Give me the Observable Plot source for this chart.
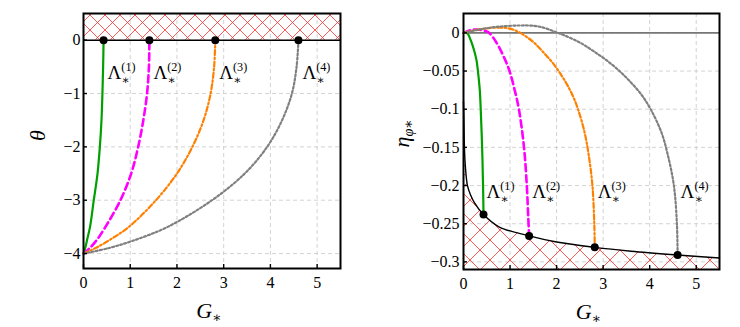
<!DOCTYPE html>
<html><head><meta charset="utf-8">
<script src="https://cdn.jsdelivr.net/npm/d3@7"></script>
<script src="https://cdn.jsdelivr.net/npm/@observablehq/plot@0.6"></script>
<style>
body{margin:0;background:#fff;}
#wrap{display:flex;width:740px;height:327px;}
#wrap svg{display:block;}
#wrap svg text{font-family:"Liberation Serif","Times New Roman","DejaVu Serif",serif;}
</style></head><body>
<svg width="0" height="0" style="position:absolute">
<defs>
<pattern id="hatchL" patternUnits="userSpaceOnUse" width="15" height="15">
<path d="M0,0L15,15M15,0L0,15" stroke="#ff3030" stroke-width="0.8" fill="none"/></pattern>
<pattern id="hatchR" patternUnits="userSpaceOnUse" width="20" height="20">
<path d="M0,0L20,20M20,0L0,20" stroke="#ff3030" stroke-width="0.8" fill="none"/></pattern>
</defs></svg>
<div id="wrap"></div>
<script>
// ---- data ----
const seriesLabels = ["(1)", "(2)", "(3)", "(4)"];
const seriesColors = ["#00a000", "#ff00ff", "#ff8000", "#808080"];
const endG = [0.43, 1.41, 2.82, 4.6];
const endEta = [-0.238, -0.266, -0.281, -0.291];

// left panel: theta vs G*
const thetaGrid = [-4, -3.9, -3.75, -3.5, -3, -2.5, -2, -1.5, -1, -0.5, 0];
const thetaG1 = [0, 0.035, 0.075, 0.14, 0.22, 0.30, 0.35, 0.385, 0.405, 0.42, 0.43];
const thetaG2 = [0, 0.13, 0.28, 0.47, 0.79, 1.02, 1.17, 1.28, 1.36, 1.40, 1.41];
const thetaG3 = [0, 0.25, 0.55, 0.97, 1.55, 2.0, 2.33, 2.57, 2.72, 2.795, 2.82];
const thetaG4 = [0, 0.53, 1.09, 1.8, 2.75, 3.45, 3.93, 4.25, 4.46, 4.56, 4.6];

// right panel: eta_phi* vs G*
const etaG1 = [0, 0.05, 0.1, 0.155, 0.227, 0.28, 0.31, 0.35, 0.37, 0.40, 0.42, 0.43];
const eta1  = [0, 0.001, -0.002, -0.0096, -0.0227, -0.036, -0.05, -0.075, -0.1, -0.15, -0.2, -0.238];
const etaG2 = [0, 0.15, 0.3, 0.44, 0.55, 0.7, 0.9, 1.0, 1.1, 1.19, 1.3, 1.36, 1.39, 1.41];
const eta2  = [0, 0.0035, 0.0045, 0.003, 0, -0.012, -0.036, -0.052, -0.075, -0.1, -0.15, -0.2, -0.24, -0.266];
const etaG3 = [0, 0.2, 0.45, 0.76, 1.0, 1.22, 1.5, 1.71, 1.95, 2.15, 2.33, 2.46, 2.6, 2.69, 2.77, 2.81, 2.82];
const eta3  = [0, 0.003, 0.0055, 0.007, 0.0055, 0, -0.012, -0.025, -0.042, -0.06, -0.08, -0.1, -0.13, -0.16, -0.2, -0.25, -0.281];
const etaG4 = [0, 0.3, 0.7, 1.22, 1.6, 2.03, 2.48, 2.82, 3.2, 3.52, 3.81, 4.02, 4.25, 4.39, 4.52, 4.585, 4.6];
const eta4  = [0, 0.004, 0.0078, 0.0097, 0.0085, 0, -0.012, -0.025, -0.042, -0.06, -0.08, -0.1, -0.13, -0.16, -0.2, -0.25, -0.291];

// lower boundary of right panel
const boundG   = [0, 0.01, 0.02, 0.04, 0.085, 0.15, 0.23, 0.43, 0.76, 1.41, 2.0, 2.82, 3.6, 4.6, 5.5];
const boundEta = [-0.09, -0.12, -0.15, -0.175, -0.2, -0.212, -0.222, -0.238, -0.254, -0.266, -0.274, -0.281, -0.286, -0.291, -0.295];

const xTicks = [0, 1, 2, 3, 4, 5];
const thetaTicks = [-4, -3, -2, -1, 0];
const etaTicks = [-0.3, -0.25, -0.2, -0.15, -0.1, -0.05, 0];
const xDomain = [0, 5.5];
const thetaDomain = [-4.28, 0.5];
const etaDomain = [-0.31, 0.0254];
const forbiddenTheta = [0, 0.5];

// ---- build tables ----
const thetaGs = [thetaG1, thetaG2, thetaG3, thetaG4];
const leftRows = thetaGs.flatMap((gs, k) => gs.map((g, i) => ({s: k, G: g, v: thetaGrid[i]})));
const etaGs = [etaG1, etaG2, etaG3, etaG4];
const etas = [eta1, eta2, eta3, eta4];
const rightRows = etaGs.flatMap((gs, k) => gs.map((g, i) => ({s: k, G: g, v: etas[k][i]})));
const bound = boundG.map((g, i) => ({G: g, v: boundEta[i]}));
const ends = endG.map((g, i) => ({s: i, G: g, eta: endEta[i], lab: seriesLabels[i]}));

const FONT = "'Liberation Serif','Times New Roman','DejaVu Serif',serif";
const styles = [
  {strokeWidth: 2.2, dash: "none"},
  {strokeWidth: 2.6, dash: "7,4"},
  {strokeWidth: 2.2, dash: "5,2.4,1.6,2.4"},
  {strokeWidth: 2.2, dash: "2,2.2"}
];
const fmt = d => d === 0 ? "0" : (d < 0 ? "\u2212" : "") + String(Math.abs(d));

function curveMarks(rows) {
  return styles.map((st, k) => Plot.line(rows.filter(r => r.s === k), {
    x: "G", y: "v", stroke: seriesColors[k], strokeWidth: st.strokeWidth,
    strokeDasharray: st.dash, curve: "catmull-rom"
  }));
}

const common = {
  width: 370, height: 327,
  style: `font-family: ${FONT}; font-size: 16px; background: white; color: black;`
};

function axesMarks(yTicks, padY) {
  return [
    Plot.axisX({ticks: xTicks, tickSize: -4, tickPadding: 12, tickFormat: fmt, label: null, strokeWidth: 1.4, fontFamily: FONT, fontSize: 16}),
    Plot.axisY({ticks: yTicks, tickSize: -4, tickPadding: padY, tickFormat: fmt, label: null, strokeWidth: 1.4, fontFamily: FONT, fontSize: 16})
  ];
}

function gLabel(dxG) {
  return Plot.text(["G|\u2217"], {frameAnchor: "bottom", dy: 42, dx: dxG, text: d => d,
    fontSize: 22, fontStyle: "italic", fontFamily: FONT, className: "rich", lineAnchor: "middle"});
}

const left = Plot.plot({
  ...common,
  marginLeft: 83, marginRight: 30, marginTop: 13, marginBottom: 59,
  x: {domain: xDomain, label: null},
  y: {domain: thetaDomain, label: null},
  marks: [
    Plot.gridX(xTicks, {stroke: "#c8c8c8", strokeOpacity: 1, strokeDasharray: "4,3", strokeWidth: 0.8}),
    Plot.gridY(thetaTicks, {stroke: "#c8c8c8", strokeOpacity: 1, strokeDasharray: "4,3", strokeWidth: 0.8}),
    Plot.rect([forbiddenTheta], {x1: xDomain[0], x2: xDomain[1], y1: d => d[0], y2: d => d[1], fill: "url(#hatchL)"}),
    Plot.ruleY([0], {stroke: "black", strokeWidth: 1.5}),
    ...curveMarks(leftRows),
    Plot.dot(ends, {x: "G", y: 0, r: 4, fill: "black"}),
    Plot.text(ends, {x: "G", y: -0.72, text: d => "\u039b|\u2217|" + d.lab, textAnchor: "start", dx: 4,
      lineAnchor: "bottom", fontSize: 19, fontFamily: FONT, className: "rich"}),
    Plot.frame({stroke: "black", strokeWidth: 2}),
    ...axesMarks(thetaTicks, 7),
    gLabel(-3),
    Plot.text(["\u03b8"], {frameAnchor: "left", dx: -46, rotate: -90, text: d => d, fontSize: 22, fontStyle: "italic",
      fontFamily: FONT, lineAnchor: "middle"})
  ]
});

const right = Plot.plot({
  ...common,
  marginLeft: 93, marginRight: 21, marginTop: 13, marginBottom: 58,
  x: {domain: xDomain, label: null},
  y: {domain: etaDomain, label: null},
  marks: [
    Plot.gridX(xTicks, {stroke: "#c8c8c8", strokeOpacity: 1, strokeDasharray: "4,3", strokeWidth: 0.8}),
    Plot.gridY(etaTicks, {stroke: "#c8c8c8", strokeOpacity: 1, strokeDasharray: "4,3", strokeWidth: 0.8}),
    Plot.areaY(bound, {x: "G", y1: etaDomain[0], y2: "v", fill: "url(#hatchR)", curve: "catmull-rom"}),
    Plot.line(bound, {x: "G", y: "v", stroke: "black", strokeWidth: 1.4, curve: "catmull-rom"}),
    Plot.ruleY([0], {stroke: "#777", strokeWidth: 1.6}),
    ...curveMarks(rightRows),
    Plot.dot(ends, {x: "G", y: "eta", r: 4, fill: "black"}),
    Plot.text(ends, {x: "G", y: -0.216, text: d => "\u039b|\u2217|" + d.lab, textAnchor: "start", dx: 3,
      lineAnchor: "bottom", fontSize: 19, fontFamily: FONT, className: "rich"}),
    Plot.frame({stroke: "black", strokeWidth: 2}),
    ...axesMarks(etaTicks, 8),
    gLabel(-3),
    Plot.text(["\u03b7|\u03c6\u2217"], {frameAnchor: "left", dx: -62, dy: 6, rotate: -90, text: d => d, fontSize: 22,
      fontStyle: "italic", fontFamily: FONT, lineAnchor: "middle", className: "rich"})
  ]
});

const wrap = document.getElementById("wrap");
wrap.appendChild(left);
wrap.appendChild(right);

function richify(svg) {
  d3.select(svg).selectAll("g.rich text").each(function() {
    const raw = this.textContent;
    const parts = raw.split("|");
    const fs = parseFloat(getComputedStyle(this).fontSize) || 16;
    const t = d3.select(this);
    t.text(null);
    t.append("tspan").text(parts[0]);
    let subLen = 0;
    const subShift = fs * (parts[2] ? 0.28 : 0.18);
    if (parts[1]) {
      const s = t.append("tspan").attr("font-size", (fs * 0.64) + "px").attr("dy", subShift).text(parts[1]);
      subLen = s.node().getComputedTextLength();
    }
    if (parts[2]) {
      t.append("tspan").attr("font-size", (fs * 0.64) + "px").attr("font-style", "normal")
        .attr("dx", -subLen).attr("dy", -(subShift + fs * 0.42)).text(parts[2]);
    }
  });
}
richify(left);
richify(right);
</script>
</body></html>
